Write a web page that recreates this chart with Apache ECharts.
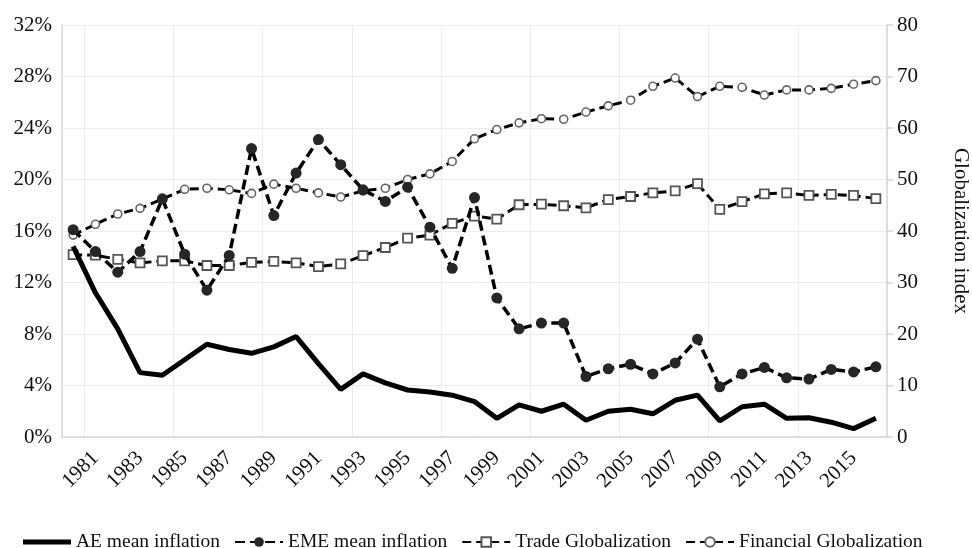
<!DOCTYPE html>
<html>
<head>
<meta charset="utf-8">
<script src="https://cdn.jsdelivr.net/npm/echarts@6/dist/echarts.min.js"></script>
<style>
html,body{margin:0;padding:0;background:#fff;overflow:hidden;}
#chart{width:972px;height:548px;}
</style>
</head>
<body>
<div id="chart"></div>
<script>
var years = ['1980','1981','1982','1983','1984','1985','1986','1987','1988','1989','1990','1991','1992','1993','1994','1995','1996','1997','1998','1999','2000','2001','2002','2003','2004','2005','2006','2007','2008','2009','2010','2011','2012','2013','2014','2015','2016'];
var aeInflation = [14.8,11.2,8.4,5.0,4.8,6.0,7.2,6.8,6.5,7.0,7.8,5.7,3.7,4.9,4.2,3.65,3.5,3.25,2.75,1.45,2.5,2.0,2.55,1.3,2.0,2.15,1.8,2.85,3.25,1.25,2.35,2.55,1.45,1.5,1.15,0.65,1.45];
var emeInflation = [16.1,14.4,12.8,14.4,18.5,14.2,11.4,14.1,22.4,17.2,20.5,23.1,21.15,19.2,18.3,19.4,16.3,13.1,18.6,10.8,8.4,8.85,8.85,4.7,5.3,5.65,4.9,5.75,7.6,3.9,4.9,5.4,4.6,4.5,5.25,5.05,5.45];
var tradeGlob = [35.4,35.3,34.5,33.8,34.2,34.2,33.3,33.3,33.9,34.1,33.8,33.1,33.6,35.2,36.8,38.6,39.2,41.5,42.9,42.3,45.1,45.2,44.9,44.5,46.1,46.7,47.4,47.8,49.2,44.2,45.7,47.2,47.4,46.9,47.1,46.9,46.3];
var finGlob = [39.2,41.3,43.3,44.4,46.2,48.1,48.3,48.0,47.3,49.1,48.3,47.4,46.6,47.8,48.3,50.0,51.1,53.5,57.9,59.7,61.0,61.8,61.7,63.1,64.3,65.4,68.1,69.7,66.1,68.1,67.9,66.4,67.4,67.4,67.7,68.5,69.2];
var leftTicks = {min:0, max:32, interval:4};
var rightTicks = {min:0, max:80, interval:10};
var seriesNames = ['AE mean inflation','EME mean inflation','Trade Globalization','Financial Globalization'];

var FONT = '"Liberation Serif","Times New Roman",serif';
var chart = echarts.init(document.getElementById('chart'), null, {renderer:'canvas'});
var axisGray = '#d6d6d6';
var gridGray = '#ececec';
chart.setOption({
  animation:false,
  backgroundColor:'#fff',
  textStyle:{fontFamily:FONT, color:'#111'},
  grid:{left:62, right:85, top:25, bottom:111, containLabel:false, outerBoundsMode:'none'},
  legend:{
    data:[
      {name:seriesNames[0], icon:'path://M0,0 L48,0 L48,5 L0,5 Z'},
      {name:seriesNames[1]},
      {name:seriesNames[2]},
      {name:seriesNames[3]}
    ],
    left:18, top:527,
    itemWidth:48, itemHeight:12, itemGap:14,
    textStyle:{fontFamily:FONT, fontSize:19.5, color:'#111'}
  },
  xAxis:{
    type:'category',
    data:years,
    boundaryGap:true,
    axisLine:{show:true, lineStyle:{color:axisGray, width:1.5}},
    axisTick:{show:false},
    axisLabel:{
      interval:function(i){return i%2===1;},
      rotate:45, margin:18,
      fontFamily:FONT, fontSize:21, color:'#111'
    },
    splitLine:{show:true, interval:function(i){return i%4===1;}, lineStyle:{color:gridGray, width:1}}
  },
  yAxis:[{
    type:'value',
    min:leftTicks.min, max:leftTicks.max, interval:leftTicks.interval,
    axisLine:{show:true, lineStyle:{color:axisGray, width:1.5}},
    axisTick:{show:false},
    axisLabel:{formatter:'{value}%', margin:10, fontFamily:FONT, fontSize:21, color:'#111'},
    splitLine:{show:true, lineStyle:{color:gridGray, width:1}}
  },{
    type:'value',
    min:rightTicks.min, max:rightTicks.max, interval:rightTicks.interval,
    name:'Globalization index',
    nameLocation:'middle', nameRotate:-90, nameGap:63,
    nameTextStyle:{fontFamily:FONT, fontSize:21, color:'#111'},
    axisLine:{show:true, lineStyle:{color:axisGray, width:1.5}},
    axisTick:{show:true, length:6, lineStyle:{color:axisGray, width:1.5}},
    axisLabel:{margin:10, fontFamily:FONT, fontSize:21, color:'#111'},
    splitLine:{show:false}
  }],
  series:[{
    name:seriesNames[0], type:'line', yAxisIndex:0, data:aeInflation,
    symbol:'none', showSymbol:false,
    itemStyle:{color:'#000'},
    lineStyle:{color:'#000', width:5}, z:3
  },{
    name:seriesNames[1], type:'line', yAxisIndex:0, data:emeInflation,
    symbol:'circle', symbolSize:11,
    itemStyle:{color:'#262626'},
    lineStyle:{color:'#000', width:3.5, type:[10,5]}, z:4
  },{
    name:seriesNames[2], type:'line', yAxisIndex:1, data:tradeGlob,
    symbol:'rect', symbolSize:9,
    itemStyle:{color:'#fff', borderColor:'#555', borderWidth:1.8},
    lineStyle:{color:'#000', width:3, type:[9,5]}, z:2
  },{
    name:seriesNames[3], type:'line', yAxisIndex:1, data:finGlob,
    symbol:'circle', symbolSize:8,
    itemStyle:{color:'#fff', borderColor:'#666', borderWidth:1.6},
    lineStyle:{color:'#000', width:3, type:[9,5]}, z:2
  }]
});
</script>
</body>
</html>
